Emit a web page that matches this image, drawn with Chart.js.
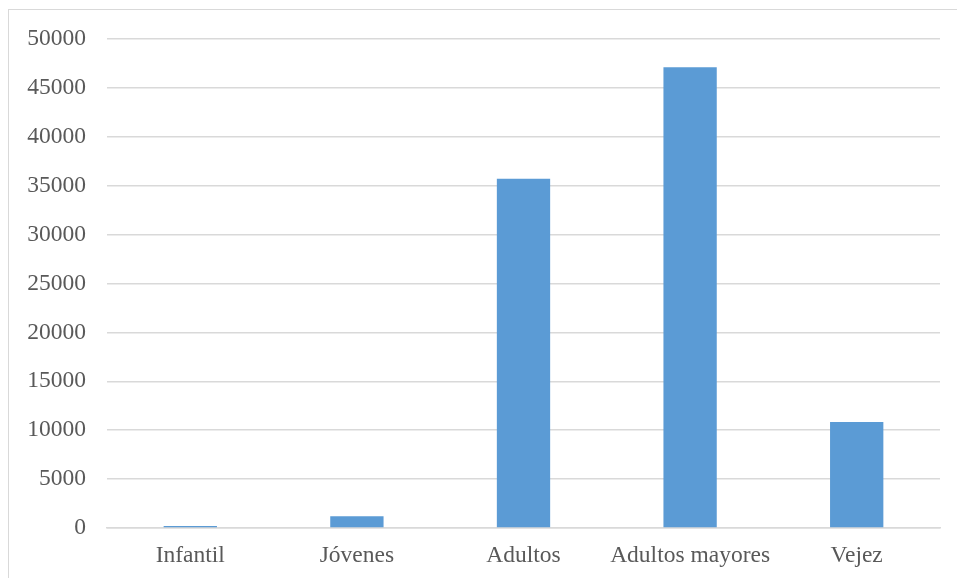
<!DOCTYPE html>
<html>
<head>
<meta charset="utf-8">
<script src="https://cdn.jsdelivr.net/npm/chart.js@4.4.1/dist/chart.umd.min.js"></script>
<style>
  html, body { margin: 0; padding: 0; background: #fff; }
  #frame {
    position: absolute; left: 0; top: 0;
    width: 957px; height: 578px;
  }
  #border {
    position: absolute; left: 8px; top: 9px;
    width: 960px; height: 600px;
    border-left: 1.5px solid #d9d9d9;
    border-top: 1.5px solid #d9d9d9;
  }
  canvas { position: absolute; left: 0; top: 0; }
</style>
</head>
<body>
<div id="frame">
  <div id="border"></div>
  <canvas id="chart" width="957" height="578"></canvas>
</div>
<script>
// grupos de edad y número de personas
const categories = ['Infantil', 'Jóvenes', 'Adultos', 'Adultos mayores', 'Vejez'];
const values     = [200, 1200, 35700, 47100, 10850];

const yMax  = 50000;
const yStep = 5000;

const textColor = '#595959';
const gridColor = '#d9d9d9';
const barColor  = '#5b9bd5';
const fontFace  = '"Liberation Serif", "Times New Roman", serif';

const ctx = document.getElementById('chart').getContext('2d');
new Chart(ctx, {
  type: 'bar',
  data: {
    labels: categories,
    datasets: [{
      data: values,
      backgroundColor: barColor,
      borderWidth: 0,
      barPercentage: 0.32,
      categoryPercentage: 1
    }]
  },
  options: {
    responsive: false,
    animation: false,
    layout: { padding: { left: 8, top: 39, right: 17, bottom: 0 } },
    plugins: {
      legend: { display: false },
      tooltip: { enabled: false }
    },
    scales: {
      x: {
        grid: { display: false, drawTicks: false },
        border: { color: gridColor, width: 1.5 },
        ticks: {
          color: textColor,
          padding: 14,
          maxRotation: 0,
          font: { family: fontFace, size: 23.5 }
        },
        afterFit: s => { s.height = 50; }
      },
      y: {
        min: 0,
        max: yMax,
        grid: { color: gridColor, lineWidth: 1.5, drawTicks: false },
        border: { display: false },
        ticks: {
          stepSize: yStep,
          color: textColor,
          padding: 21,
          font: { family: fontFace, size: 23.5 },
          callback: v => String(v)
        },
        afterFit: s => { s.width = 99; }
      }
    }
  }
});
</script>
</body>
</html>
